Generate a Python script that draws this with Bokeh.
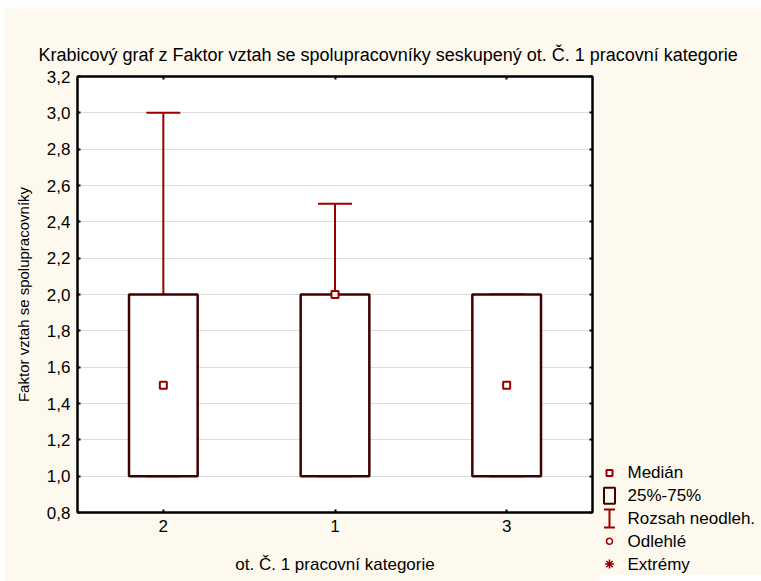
import math
from bokeh.plotting import figure
from bokeh.models import (FactorRange, Range1d, LinearAxis, CategoricalAxis, FixedTicker,
                          ColumnDataSource, Label, Spacer)
from bokeh.core.properties import value
from bokeh.layouts import column, row
from bokeh.embed import file_html
from bokeh.resources import INLINE

# ---- data ----
categories = ["2", "1", "3"]
q1 = [1.0, 1.0, 1.0]
q3 = [2.0, 2.0, 2.0]
medians = [1.5, 2.0, 1.5]
whisker_low = [1.0, 1.0, 1.0]
whisker_high = [3.0, 2.5, 2.0]
outliers_x = []
outliers_y = []
extremes_x = []
extremes_y = []

y_ticks = [0.8, 1.0, 1.2, 1.4, 1.6, 1.8, 2.0, 2.2, 2.4, 2.6, 2.8, 3.0, 3.2]
y_tick_labels = ["0,8", "1,0", "1,2", "1,4", "1,6", "1,8", "2,0", "2,2",
                 "2,4", "2,6", "2,8", "3,0", "3,2"]

title_text = "Krabicový graf z Faktor vztah se spolupracovníky seskupený ot. Č. 1 pracovní kategorie"
x_label = "ot. Č. 1 pracovní kategorie"
y_label = "Faktor vztah se spolupracovníky"
legend_labels = ["Medián", "25%-75%", "Rozsah neodleh.", "Odlehlé", "Extrémy"]

# ---- style ----
FONT = "Liberation Sans"
RED = "#990000"
BOX = "#3f0000"
CREAM = "#FEF9EF"


def blank(width, height, xr=(0, 1), yr=(0, 1)):
    f = figure(width=width, height=height, x_range=Range1d(*xr), y_range=Range1d(*yr),
               x_axis_type=None, y_axis_type=None,
               output_backend="svg", toolbar_location=None, tools="", min_border=0)
    f.background_fill_color = CREAM
    f.border_fill_color = CREAM
    f.outline_line_color = None
    f.grid.visible = False
    return f


# ---- title strip ----
tf = blank(757, 62)
tf.add_layout(Label(x=34, y=15, x_units="screen", y_units="screen", text=title_text,
                    text_baseline="middle", text_align="left",
                    text_font=FONT, text_font_size="18px", text_color="black"))

# ---- main plot ----
p = figure(width=596, height=512,
           x_range=FactorRange(*categories), y_range=Range1d(0.8, 3.2),
           output_backend="svg", toolbar_location=None, tools="",
           min_border_left=73, min_border_right=8,
           min_border_top=7, min_border_bottom=69)
p.background_fill_color = "white"
p.border_fill_color = CREAM
p.outline_line_color = "black"
p.outline_line_width = 2

src = ColumnDataSource(dict(cat=categories, q1=q1, q3=q3, med=medians,
                            lo=whisker_low, hi=whisker_high))

p.segment(x0="cat", y0="q3", x1="cat", y1="hi", source=src,
          line_color=RED, line_width=2)
p.segment(x0="cat", y0="lo", x1="cat", y1="q1", source=src,
          line_color=RED, line_width=2)
p.scatter(x="cat", y="hi", marker="dash", size=34, source=src,
          line_color=RED, line_width=2)
p.scatter(x="cat", y="lo", marker="dash", size=34, source=src,
          line_color=RED, line_width=2)
p.vbar(x="cat", width=0.4, bottom="q1", top="q3", source=src,
       fill_color="white", line_color=BOX, line_width=2.5)
p.scatter(x="cat", y="med", marker="square", size=7, source=src,
          line_color=RED, fill_color="white", line_width=2)
p.scatter(x=outliers_x, y=outliers_y, marker="circle", size=6,
          line_color=RED, fill_color="white", line_width=1.5)
p.scatter(x=extremes_x, y=extremes_y, marker="asterisk", size=9,
          line_color=RED, line_width=1.5)

yt = FixedTicker(ticks=y_ticks)
xa = p.xaxis[0]
ya = p.yaxis[0]
ya.ticker = yt
ya.major_label_overrides = dict(zip(y_ticks, y_tick_labels))
for ax in (xa, ya):
    ax.major_tick_in = 3
    ax.major_tick_out = 0
    ax.minor_tick_line_color = None
    ax.axis_line_color = "black"
    ax.axis_line_width = 2
    ax.major_tick_line_color = "black"
    ax.major_tick_line_width = 2
    ax.major_label_text_font = FONT
    ax.major_label_text_font_size = "17px"
    ax.major_label_text_color = "black"
    ax.axis_label_text_font = FONT
    ax.axis_label_text_font_style = "normal"
    ax.axis_label_text_color = "black"
xa.axis_label = x_label
xa.axis_label_text_font_size = "17px"
xa.major_label_standoff = 7
xa.axis_label_standoff = 20
ya.axis_label = y_label
ya.axis_label_text_font_size = "15px"
ya.major_label_standoff = 7
ya.axis_label_standoff = 12

top_ax = CategoricalAxis(major_tick_in=3, major_tick_out=0,
                         major_label_text_font_size="1px", major_label_text_color=None,
                         major_label_standoff=0,
                         axis_line_color="black", axis_line_width=2,
                         major_tick_line_color="black", major_tick_line_width=2)
p.add_layout(top_ax, "above")
right_ax = LinearAxis(ticker=FixedTicker(ticks=y_ticks), major_tick_in=3, major_tick_out=0,
                      minor_tick_line_color=None,
                      major_label_text_font_size="1px", major_label_text_color=None,
                      major_label_standoff=0,
                      axis_line_color="black", axis_line_width=2,
                      major_tick_line_color="black", major_tick_line_width=2)
p.add_layout(right_ax, "right")

p.xgrid.visible = False
p.ygrid.grid_line_color = "#dddddd"
p.ygrid.grid_line_width = 1

# ---- legend (its own small panel) ----
n = len(legend_labels)
rows_y = [n - 0.5 - i for i in range(n)]
GX = 9      # glyph column (px)
TX = 27     # label column (px)

lf = blank(161, 114, xr=(0, 161), yr=(0, n))

# Medián
lf.scatter(x=[GX], y=[rows_y[0]], marker="square", size=6,
           line_color=RED, fill_color="white", line_width=2)
# 25%-75%
lf.rect(x=[GX], y=[rows_y[1]], width=11, height=16, width_units="screen",
        height_units="screen", fill_color=None, line_color=BOX, line_width=2)
# Rozsah neodleh.
lf.segment(x0=[GX], y0=[rows_y[2] - 0.4], x1=[GX], y1=[rows_y[2] + 0.4],
           line_color=RED, line_width=2)
lf.scatter(x=[GX, GX], y=[rows_y[2] - 0.4, rows_y[2] + 0.4], marker="dash", size=11,
           line_color=RED, line_width=2)
# Odlehlé
lf.scatter(x=[GX], y=[rows_y[3]], marker="circle", size=6,
           line_color=RED, fill_color="white", line_width=1.5)
# Extrémy
lf.scatter(x=[GX], y=[rows_y[4]], marker="asterisk", size=9,
           line_color=RED, line_width=1.5)
lf.text(x=[TX] * n, y=rows_y, text=legend_labels, text_baseline="middle",
        text_align="left", text_font=value(FONT), text_font_size="17px",
        text_color="black")

filler_top = blank(161, 392)
filler_bottom = blank(161, 6)

layout = column(
    Spacer(width=761, height=7),
    row(Spacer(width=4, height=62), tf),
    row(Spacer(width=4, height=512), p,
        column(filler_top, lf, filler_bottom)),
)

open("out.html", "w").write(file_html(layout, INLINE))
